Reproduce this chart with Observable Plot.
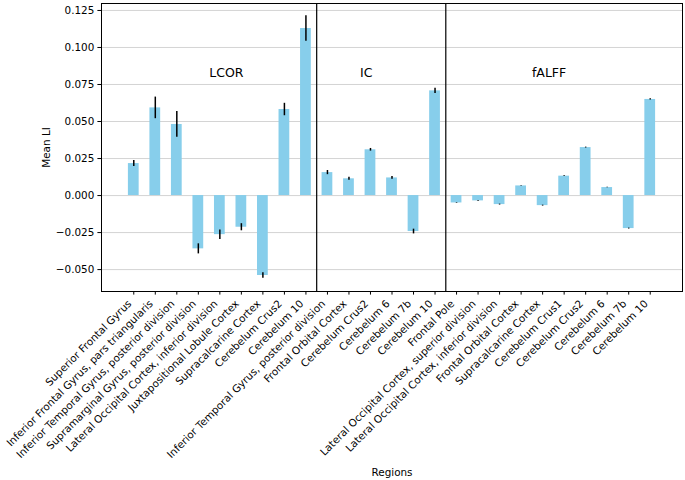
<!DOCTYPE html>
<html>
<head>
<meta charset="utf-8">
<script src="https://cdn.jsdelivr.net/npm/d3@7"></script>
<script src="https://cdn.jsdelivr.net/npm/@observablehq/plot@0.6"></script>
<style>
  html, body { margin: 0; padding: 0; background: #fff; }
  svg { font-family: "DejaVu Sans", sans-serif; }
</style>
</head>
<body>
<div id="chart"></div>
<script>
const regions = [
  "Superior Frontal Gyrus",
  "Inferior Frontal Gyrus, pars triangularis",
  "Inferior Temporal Gyrus, posterior division",
  "Supramarginal Gyrus, posterior division",
  "Lateral Occipital Cortex, inferior division",
  "Juxtapositional Lobule Cortex",
  "Supracalcarine Cortex",
  "Cerebelum Crus2",
  "Cerebelum 10",
  "Inferior Temporal Gyrus, posterior division",
  "Frontal Orbital Cortex",
  "Cerebelum Crus2",
  "Cerebelum 6",
  "Cerebelum 7b",
  "Cerebelum 10",
  "Frontal Pole",
  "Lateral Occipital Cortex, superior division",
  "Lateral Occipital Cortex, inferior division",
  "Frontal Orbital Cortex",
  "Supracalcarine Cortex",
  "Cerebelum Crus1",
  "Cerebelum Crus2",
  "Cerebelum 6",
  "Cerebelum 7b",
  "Cerebelum 10"
];
const measures = [
  "LCOR","LCOR","LCOR","LCOR","LCOR","LCOR","LCOR","LCOR","LCOR",
  "IC","IC","IC","IC","IC","IC",
  "fALFF","fALFF","fALFF","fALFF","fALFF","fALFF","fALFF","fALFF","fALFF","fALFF"
];
const meanLI = [
  0.0216, 0.0592, 0.0480, -0.0360, -0.0264, -0.0214, -0.0540, 0.0581, 0.1128,
  0.0155, 0.0113, 0.0309, 0.0119, -0.0243, 0.0707,
  -0.0050, -0.0036, -0.0061, 0.0065, -0.0068, 0.0131, 0.0324, 0.0054, -0.0223, 0.0649
];
const errLI = [
  0.0020, 0.0073, 0.0087, 0.0034, 0.0032, 0.0024, 0.0019, 0.0042, 0.0086,
  0.0014, 0.0010, 0.0009, 0.0009, 0.0016, 0.0018,
  0.0002, 0.0002, 0.0003, 0.0002, 0.0003, 0.0003, 0.0003, 0.0002, 0.0003, 0.0004
];
const groupNames = ["LCOR", "IC", "fALFF"];
const groupLabelX = [4.3, 10.8, 19.3];
const groupLabelY = 0.08;
const yTicks = [-0.05, -0.025, 0, 0.025, 0.05, 0.075, 0.1, 0.125];

const data = regions.map((r, i) => ({i, region: r, measure: measures[i], v: meanLI[i], e: errLI[i]}));
const separators = data.filter((d, k) => k > 0 && measures[k - 1] !== d.measure).map(d => d.i - 0.5);
const groupLabels = groupNames.map((g, k) => ({name: g, x: groupLabelX[k], y: groupLabelY}));
const n = regions.length;
const fs = 10.4;

const chart = Plot.plot({
  width: 685,
  height: 480,
  marginLeft: 101,
  marginRight: 3,
  marginTop: 3,
  marginBottom: 189,
  style: {fontFamily: "DejaVu Sans, sans-serif", fontSize: fs + "px", color: "#000", background: "#fff"},
  x: {domain: [-1.5, n + 0.5]},
  y: {domain: [-0.0648, 0.1297]},
  marks: [
    Plot.gridY(yTicks, {stroke: "#b0b0b0", strokeOpacity: 0.55, strokeWidth: 1}),
    Plot.rectY(data, {x1: d => d.i - 0.25, x2: d => d.i + 0.25, y1: 0, y2: "v", fill: "#87CEEB"}),
    Plot.ruleX(data, {x: "i", y1: d => d.v - d.e, y2: d => d.v + d.e, stroke: "#000", strokeWidth: 1.5}),
    Plot.ruleX(separators, {stroke: "#000", strokeWidth: 1.2}),
    Plot.frame({stroke: "#000", strokeWidth: 1}),
    Plot.text(groupLabels, {x: "x", y: "y", text: "name", lineAnchor: "bottom", fontSize: 12.5, fill: "#000"}),
    Plot.axisY({ticks: yTicks, tickFormat: d3.format(".3f"), tickSize: 3.6, tickPadding: 3.6, fontSize: fs, label: null}),
    Plot.axisX({ticks: d3.range(n), tickSize: 3.6, tickFormat: () => "", label: null}),
    Plot.axisX({ticks: d3.range(n), tickFormat: i => regions[i], tickRotate: -45, tickSize: 0, tickPadding: 7.2, dx: -4, dy: 3.3, fontSize: fs, label: null}),
    Plot.text(["Regions"], {frameAnchor: "bottom", dy: 181, lineAnchor: "middle", text: d => d, fontSize: fs, fill: "#000"}),
    Plot.text(["Mean LI"], {frameAnchor: "left", dx: -55, rotate: -90, textAnchor: "middle", lineAnchor: "middle", text: d => d, fontSize: fs, fill: "#000"})
  ]
});
document.getElementById("chart").appendChild(chart);
</script>
</body>
</html>
